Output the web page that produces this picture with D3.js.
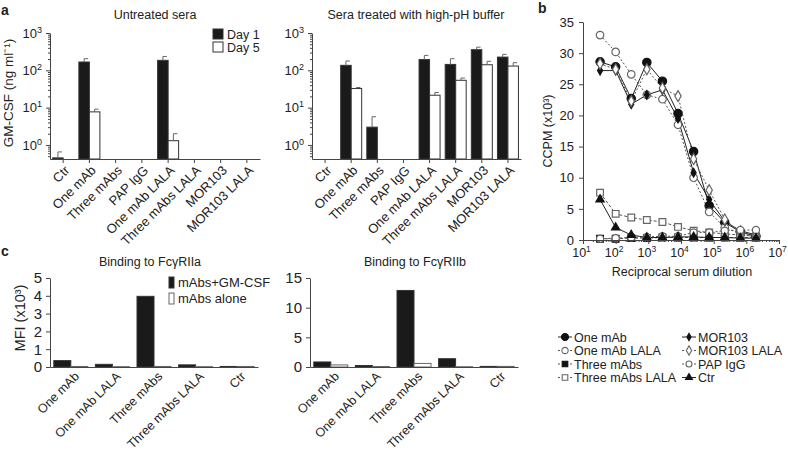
<!DOCTYPE html>
<html><head><meta charset="utf-8">
<script src="https://cdn.jsdelivr.net/npm/d3@7"></script>
<style>
body{margin:0;background:#fff;}
text{font-family:"Liberation Sans",Arial,Helvetica,sans-serif;fill:#222;}
</style></head>
<body><svg id="c" width="788" height="455"></svg>
<script>
// ---------- DATA ----------
const catsA = ["Ctr","One mAb","Three mAbs","PAP IgG","One mAb LALA","Three mAbs LALA","MOR103","MOR103 LALA"];
const untreatedDay1    = [0.45, 167, null, null, 185, null, null, null];
const untreatedDay1Err = [0.2,  38,  null, null, 50,  null, null, null];
const untreatedDay5    = [null, 7.7, null, null, 1.3, null, null, null];
const untreatedDay5Err = [null, 1.4, null, null, 0.7, null, null, null];
const treatedDay1      = [null, 136, 3.0, null, 194, 144, 357, 226];
const treatedDay1Err   = [null, 42,  2.7, null, 57,  61,  60,  41];
const treatedDay5      = [null, 32.5, null, null, 21.5, 54, 141, 130];
const treatedDay5Err   = [null, 2.1,  null, null, 3.9,  8,  33,  30];
const logTicksA = [1, 10, 100, 1000];

const dilutions = [33.3, 100, 300, 900, 2700, 8100, 24300, 72900, 218700, 656100, 1968300];
const oneMAb        = [28.6, 27.8, 22.7, 28.5, 25.5, 20.3, 14.2, 5.5, 2.8, 1.3, 0.6];
const oneMAbLALA    = [32.9, 30.2, 26.6, 23.3, 22.6, 18.5, 10.0, 4.5, 2.0, 1.0, 0.5];
const threeMAbs     = [0.2, 0.2, 0.3, 0.3, 0.4, 0.4, 0.4, 0.4, 0.4, 0.4, 0.4];
const threeMAbsLALA = [7.6, 4.2, 3.6, 3.2, 2.9, 2.1, 1.5, 1.2, 1.0, 0.8, 0.6];
const mor103        = [27.2, 27.2, 21.8, 23.3, 24.1, 19.5, 10.8, 6.5, 3.0, 1.5, 0.8];
const mor103LALA    = [28.3, 27.4, 22.3, 27.4, 24.4, 23.1, 13.0, 8.0, 3.3, 1.2, 0.7];
const papIgG        = [0.2, 0.3, 0.4, 0.5, 0.6, 0.6, 1.2, 1.2, 1.5, 1.6, 1.6];
const ctr           = [6.5, 2.0, 0.8, 0.4, 0.4, 0.5, 0.5, 0.4, 0.4, 0.3, 0.3];
const ticksBY = [0, 5, 10, 15, 20, 25, 30, 35];
const ticksBX = [10, 100, 1000, 10000, 100000, 1000000, 10000000];

const catsC = ["One mAb","One mAb LALA","Three mAbs","Three mAbs LALA","Ctr"];
const fc2aCombo = [0.36, 0.15, 3.97, 0.12, 0.03];
const fc2aAlone = [0.03, 0.02, 0.03, 0.02, 0.03];
const fc2bCombo = [0.85, 0.25, 12.9, 1.4, 0.1];
const fc2bAlone = [0.35, 0.08, 0.6, 0.05, 0.1];
const ticksC2a = [0,1,2,3,4,5];
const ticksC2b = [0,5,10,15];

// ---------- HELPERS ----------
const svg = d3.select("#c");
const AX = "#444";
const FS = 12.5;

function styleAxis(g, fs){
  g.selectAll("path,line").attr("stroke", AX);
  g.selectAll("text").attr("font-size", fs||FS).attr("fill","#222");
}
function supText(sel, supSize){
  sel.each(function(d){
    const t = d3.select(this); const e = Math.round(Math.log10(d));
    t.text(null);
    t.append("tspan").text("10");
    t.append("tspan").attr("dy", -5).attr("font-size", supSize||9).text(e);
  });
}
function minorLog(lo, hi){
  const out = [];
  for (let k = -2; k <= 7; k++) for (let m = 2; m <= 9; m++){
    const v = m * Math.pow(10, k); if (v >= lo && v <= hi) out.push(v);
  }
  return out;
}
function text(x, y, s, opt={}){
  const t = svg.append("text").attr("x",x).attr("y",y).attr("font-size",opt.size||FS)
    .attr("text-anchor",opt.anchor||"start").text(s);
  if (opt.bold) t.attr("font-weight","bold");
  return t;
}
function vlabel(x, y, s, size){
  svg.append("text").attr("transform",`translate(${x},${y}) rotate(-90)`)
    .attr("text-anchor","middle").attr("font-size",size||FS).text(s);
}

// ---------- PANEL A ----------
function panelA(x0, x1, d1, d1e, d5, d5e, title, titleX){
  const yTop = 33, yBot = 159;
  const y = d3.scaleLog().domain([0.42, 1000]).range([yBot, yTop]);
  const x = d3.scaleBand().domain(catsA).range([x0, x1]);
  const bw = 10.5;
  const g = svg.append("g");
  catsA.forEach((c,i)=>{
    const cx = x(c) + x.bandwidth()/2;
    [[d1[i], d1e[i], cx - bw, "#1a1a1a"], [d5[i], d5e[i], cx, "#fff"]].forEach(([v,e,bx,fill])=>{
      if (v == null) return;
      g.append("rect").attr("x", bx).attr("y", y(v)).attr("width", bw).attr("height", yBot - y(v))
        .attr("fill", fill).attr("stroke", "#333").attr("stroke-width", 1);
      if (e != null){
        const top = y(v + e), mid = bx + bw/2;
        g.append("line").attr("x1",mid).attr("x2",mid).attr("y1",y(v)).attr("y2",top).attr("stroke","#666");
        g.append("line").attr("x1",mid).attr("x2",mid+4).attr("y1",top).attr("y2",top).attr("stroke","#666");
      }
    });
  });
  const ya = g.append("g").attr("transform",`translate(${x0},0)`)
    .call(d3.axisLeft(y).tickValues(logTicksA).tickSize(4).tickSizeOuter(0).tickPadding(4));
  styleAxis(ya, 13); supText(ya.selectAll("text"));
  const ym = g.append("g").attr("transform",`translate(${x0},0)`)
    .call(d3.axisLeft(y).tickValues(minorLog(0.42,1000)).tickSize(2).tickFormat(""));
  ym.select("path").remove(); ym.selectAll("line").attr("stroke", AX);
  const xa = g.append("g").attr("transform",`translate(0,${yBot})`)
    .call(d3.axisBottom(x).tickSize(4).tickSizeOuter(0));
  styleAxis(xa, 13);
  xa.selectAll("text").attr("y",0).attr("x",0).attr("dy","0.35em").attr("text-anchor","end")
    .attr("transform","translate(4,9) rotate(-45)");
  text(titleX, 19, title, {anchor:"middle"});
}
panelA(50, 260, untreatedDay1, untreatedDay1Err, untreatedDay5, untreatedDay5Err, "Untreated sera", 155);
panelA(312, 521, treatedDay1, treatedDay1Err, treatedDay5, treatedDay5Err, "Sera treated with high-pH buffer", 416);
vlabel(13, 93, "GM-CSF (ng ml\u207B\u00B9)", 13.5);
svg.append("rect").attr("x",213).attr("y",29).attr("width",10).attr("height",10).attr("fill","#1a1a1a").attr("stroke","#333");
svg.append("rect").attr("x",213).attr("y",42).attr("width",10).attr("height",10).attr("fill","#fff").attr("stroke","#333");
text(227, 38.5, "Day 1", {size:12.5}); text(227, 52, "Day 5", {size:12.5});
text(1, 15, "a", {bold:true, size:14});

// ---------- PANEL B ----------
const xB = d3.scaleLog().domain([10, 1e7]).range([583, 779]);
const yB = d3.scaleLinear().domain([0, 35]).range([240, 22]);
const seriesB = [
  {name:"One mAb", v:oneMAb, sym:d3.symbolCircle, size:55, fill:"#111", stroke:"#111", dash:null},
  {name:"One mAb LALA", v:oneMAbLALA, sym:d3.symbolCircle, size:45, fill:"#fff", stroke:"#666", dash:"2,2"},
  {name:"Three mAbs", v:threeMAbs, sym:d3.symbolSquare, size:45, fill:"#111", stroke:"#111", dash:"3,2"},
  {name:"Three mAbs LALA", v:threeMAbsLALA, sym:d3.symbolSquare, size:45, fill:"#fff", stroke:"#666", dash:"3,2"},
  {name:"MOR103", v:mor103, sym:d3.symbolDiamond, size:22, fill:"#111", stroke:"#111", dash:null},
  {name:"MOR103 LALA", v:mor103LALA, sym:d3.symbolDiamond, size:35, fill:"#fff", stroke:"#666", dash:"2,2"},
  {name:"PAP IgG", v:papIgG, sym:d3.symbolCircle, size:40, fill:"#fff", stroke:"#666", dash:"2,2"},
  {name:"Ctr", v:ctr, sym:d3.symbolTriangle, size:30, fill:"#111", stroke:"#111", dash:null}
];
const gb = svg.append("g");
const line = d3.line().x((d,i)=>xB(dilutions[i])).y(d=>yB(d));
seriesB.forEach(s=>{
  gb.append("path").attr("d", line(s.v)).attr("fill","none")
    .attr("stroke", s.dash ? "#555" : "#222").attr("stroke-width",1)
    .attr("stroke-dasharray", s.dash);
});
seriesB.forEach(s=>{
  gb.selectAll(null).data(s.v).join("path")
    .attr("transform",(d,i)=>`translate(${xB(dilutions[i])},${yB(d)})`)
    .attr("d", d3.symbol().type(s.sym).size(s.size))
    .attr("fill", s.fill).attr("stroke", s.stroke).attr("stroke-width", 1.2);
});
const bya = gb.append("g").attr("transform","translate(583,0)")
  .call(d3.axisLeft(yB).tickValues(ticksBY).tickSize(4).tickSizeOuter(0).tickPadding(5));
styleAxis(bya, 13);
const bxa = gb.append("g").attr("transform","translate(0,240)")
  .call(d3.axisBottom(xB).tickValues(ticksBX).tickSize(4).tickSizeOuter(0).tickPadding(4));
styleAxis(bxa, 12.5); supText(bxa.selectAll("text"), 8.5);
bxa.selectAll("text").attr("dx", -2);
const bxm = gb.append("g").attr("transform","translate(0,240)")
  .call(d3.axisBottom(xB).tickValues(minorLog(10,1e7)).tickSize(2).tickFormat(""));
bxm.select("path").remove(); bxm.selectAll("line").attr("stroke", AX);
text(682, 276, "Reciprocal serum dilution", {anchor:"middle"});
vlabel(552, 131, "CCPM (x10\u00B3)");
text(538, 13, "b", {bold:true, size:14});
seriesB.forEach((s,i)=>{
  const col = i < 4 ? 0 : 1, row = i % 4;
  const mx = col ? 689 : 565, my = 337 + row*13.5;
  svg.append("line").attr("x1",mx-7).attr("x2",mx+7).attr("y1",my).attr("y2",my)
    .attr("stroke", s.dash ? "#555" : "#222").attr("stroke-dasharray", s.dash ? "2,2" : null);
  svg.append("path").attr("transform",`translate(${mx},${my})`)
    .attr("d", d3.symbol().type(s.sym).size(s.size*0.7))
    .attr("fill", s.fill).attr("stroke", s.stroke).attr("stroke-width",1.1);
  text(mx+9, my+4.5, s.name, {size:12.5});
});

// ---------- PANEL C ----------
function panelC(x0, x1, combo, alone, yMax, ticks, title, titleX){
  const y = d3.scaleLinear().domain([0, yMax]).range([367, 278]);
  const x = d3.scaleBand().domain(catsC).range([x0, x1]);
  const bw = 17;
  const g = svg.append("g");
  catsC.forEach((c,i)=>{
    const cx = x(c) + x.bandwidth()/2;
    g.append("rect").attr("x",cx-bw).attr("y",y(combo[i])).attr("width",bw).attr("height",367-y(combo[i]))
      .attr("fill","#1a1a1a").attr("stroke","#333");
    g.append("rect").attr("x",cx).attr("y",y(alone[i])).attr("width",bw).attr("height",367-y(alone[i]))
      .attr("fill","#fff").attr("stroke","#666");
  });
  const ya = g.append("g").attr("transform",`translate(${x0},0)`)
    .call(d3.axisLeft(y).tickValues(ticks).tickFormat(d3.format("d")).tickSize(4).tickSizeOuter(0).tickPadding(4));
  styleAxis(ya, 15);
  const xa = g.append("g").attr("transform","translate(0,367)")
    .call(d3.axisBottom(x).tickSize(0).tickSizeOuter(0));
  styleAxis(xa, 12.5);
  xa.selectAll("text").attr("y",0).attr("x",0).attr("dy","0.35em").attr("text-anchor","end")
    .attr("transform","translate(6,7) rotate(-45)");
  text(titleX, 266, title, {anchor:"middle"});
}
panelC(50, 258, fc2aCombo, fc2aAlone, 5, ticksC2a, "Binding to Fc\u03B3RIIa", 150);
panelC(310, 518, fc2bCombo, fc2bAlone, 15, ticksC2b, "Binding to Fc\u03B3RIIb", 415);
vlabel(25, 318, "MFI (x10\u00B3)", 14.5);
text(1, 256, "c", {bold:true, size:14});
svg.append("rect").attr("x",169).attr("y",277).attr("width",5).attr("height",11).attr("fill","#1a1a1a").attr("stroke","#333");
svg.append("rect").attr("x",169).attr("y",293).attr("width",5).attr("height",11).attr("fill","#fff").attr("stroke","#666");
text(178, 287, "mAbs+GM-CSF", {size:13}); text(178, 303, "mAbs alone", {size:13});
</script></body></html>
